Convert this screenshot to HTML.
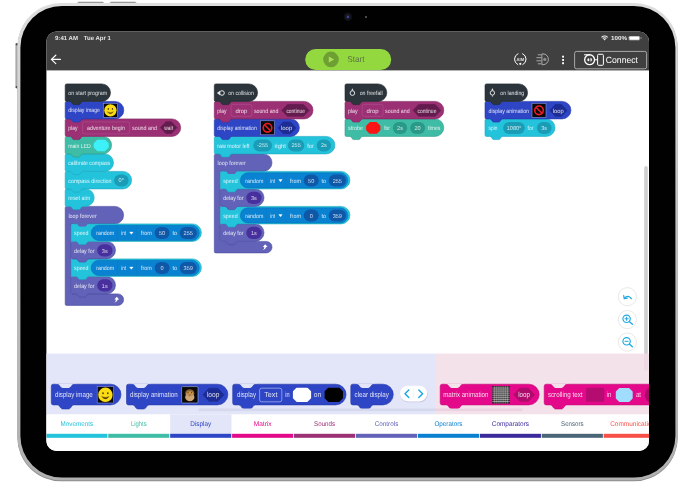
<!DOCTYPE html>
<html><head><meta charset="utf-8"><title>Block editor</title>
<style>html,body{margin:0;padding:0;background:#fff;}body{width:694px;height:482px;overflow:hidden;font-family:"Liberation Sans",sans-serif;}svg{display:block;will-change:transform;opacity:0.999;}text{font-family:"Liberation Sans",sans-serif;text-rendering:geometricPrecision;}</style>
</head><body>
<svg width="694" height="482" viewBox="0 0 694 482">
<defs>
<linearGradient id="rim" x1="0" y1="0" x2="0" y2="1"><stop offset="0" stop-color="#dedede"/><stop offset="0.5" stop-color="#c0c0c0"/><stop offset="1" stop-color="#b0b0b0"/></linearGradient>
<clipPath id="scr"><rect x="46.4" y="31.6" width="602.6" height="419.4" rx="10"/></clipPath>
<filter id="soft" x="-2%" y="-2%" width="104%" height="104%"><feGaussianBlur stdDeviation="0.7"/></filter>
</defs>
<rect x="15.6" y="43.2" width="3" height="45" rx="0.9" fill="#cdcdcd"/>
<rect x="15.6" y="43.2" width="1.1" height="45" rx="0.5" fill="#9a9a9a"/>
<rect x="15.7" y="43.2" width="2.4" height="2.2" rx="0.8" fill="#4a4a4a"/>
<rect x="15.7" y="86.0" width="2.4" height="2.2" rx="0.8" fill="#4a4a4a"/>
<rect x="77.3" y="1.7" width="26.7" height="3" rx="0.8" fill="#c4c4c4"/><rect x="78.3" y="1.9" width="24.7" height="0.7" fill="#7a7a7a"/>
<rect x="109.7" y="1.7" width="26.7" height="3" rx="0.8" fill="#c4c4c4"/><rect x="110.7" y="1.9" width="24.7" height="0.7" fill="#7a7a7a"/>
<rect x="17.3" y="3.9" width="660.5" height="477.4" rx="44" fill="#8c8c8c"/>
<rect x="17.3" y="2.9" width="660.5" height="477.4" rx="44" fill="url(#rim)"/>
<rect x="20.4" y="5.9" width="655.0" height="471.7" rx="41.6" fill="#000" filter="url(#soft)"/>
<rect x="21.8" y="7.2" width="652.2" height="469.0" rx="40.2" fill="#000"/>
<circle cx="347.9" cy="16.7" r="4.4" fill="#0d0d12"/><circle cx="347.9" cy="16.7" r="3.2" fill="#15151d"/><circle cx="347.9" cy="16.9" r="1.3" fill="#3a448c"/>
<circle cx="366" cy="17" r="0.9" fill="#6e6e6e"/>
<g clip-path="url(#scr)">
<rect x="46" y="30" width="604" height="422" fill="#fff"/>
<rect x="46" y="30" width="604" height="40.4" fill="#404040"/>
<text x="55.00" y="40.20" textLength="23.00" lengthAdjust="spacingAndGlyphs" font-size="6" fill="#e4e4e4" font-weight="bold">9:41 AM</text>
<text x="83.80" y="40.20" textLength="27.10" lengthAdjust="spacingAndGlyphs" font-size="6" fill="#e4e4e4" font-weight="bold">Tue Apr 1</text>
<text x="611.00" y="40.20" textLength="16.00" lengthAdjust="spacingAndGlyphs" font-size="5.8" fill="#f0f0f0" font-weight="bold">100%</text>
<path d="M601.50,37.32 A4.3,4.3 0 0 1 607.70,37.32 M602.80,38.56 A2.5,2.5 0 0 1 606.40,38.56" fill="none" stroke="#f0f0f0" stroke-width="1.05"/>
<path d="M603.50,39.30 Q604.60,38.40 605.70,39.30 L604.60,40.60 Z" fill="#f0f0f0"/>
<rect x="628.4" y="35.9" width="11.8" height="4.5" rx="1.3" fill="#8a8a8a"/><rect x="629.4" y="36.5" width="9.8" height="3.3" rx="0.7" fill="#fff"/><rect x="640.7" y="37.3" width="0.8" height="1.7" rx="0.4" fill="#b0b0b0"/>
<path d="M60.4,59.4 H51.6 M55.8,55.2 L51.4,59.4 L55.8,63.6" fill="none" stroke="#fff" stroke-width="1.2" stroke-linecap="round" stroke-linejoin="round"/>
<rect x="305.2" y="49" width="86" height="21" rx="10.5" fill="#94d840"/>
<circle cx="331" cy="59.4" r="7.8" fill="#6e9f32"/>
<path d="M328.8,56.4 L334.2,59.4 L328.8,62.4 Z" fill="#a6e052"/>
<text x="347.20" y="62.30" textLength="17.30" lengthAdjust="spacingAndGlyphs" font-size="8.5" fill="#5a7640" font-weight="normal">Start</text>
<path d="M518.0,53.7 A6.1,6.1 0 0 0 517.8,64.6 M522.6,53.7 A6.1,6.1 0 0 1 522.8,64.6" fill="none" stroke="#fff" stroke-width="1.0" stroke-linecap="round"/>
<circle cx="520.3" cy="63.8" r="1.1" fill="#fff"/>
<text x="516.50" y="60.80" textLength="7.60" lengthAdjust="spacingAndGlyphs" font-size="4.4" fill="#fff" font-weight="bold" fill-opacity="0.84">AIM</text>
<path d="M541.9,53.9 H543 A5.4,5.4 0 0 1 543,64.7 H541.9 Z" fill="none" stroke="#b4b4b4" stroke-width="0.9"/>
<circle cx="544.8" cy="59.4" r="1.6" fill="#8c8c8c"/>
<path d="M537.8,54.8 H541.4 M536.4,57.7 H541.4 M536.4,60.8 H541.4 M537.8,63.8 H541.4" stroke="#b4b4b4" stroke-width="0.9"/>
<rect x="562.1" y="55.7" width="1.9" height="1.9" fill="#fff"/>
<rect x="562.1" y="59.0" width="1.9" height="1.9" fill="#fff"/>
<rect x="562.1" y="62.3" width="1.9" height="1.9" fill="#fff"/>
<rect x="574.6" y="51.4" width="72" height="17.4" rx="2" fill="none" stroke="#b4b4b4" stroke-width="0.9"/>
<circle cx="589.6" cy="59.7" r="4.95" fill="none" stroke="#fff" stroke-width="1.3"/>
<path d="M584.5,54.75 H589.6" fill="none" stroke="#fff" stroke-width="1.1" stroke-linecap="round"/>
<ellipse cx="588.4" cy="59.7" rx="1.0" ry="1.5" fill="#fff"/><path d="M590.5,57.7 A2.1,2.1 0 0 1 590.5,61.7 Z" fill="#fff"/>
<path d="M595,59.8 H597.4" stroke="#fff" stroke-width="1"/>
<rect x="597.6" y="54.3" width="5.8" height="11" rx="1" fill="none" stroke="#fff" stroke-width="1"/>
<text x="605.80" y="62.90" textLength="32.20" lengthAdjust="spacingAndGlyphs" font-size="9" fill="#fff" font-weight="normal">Connect</text>
<path d="M66.70,206.40 H114.85 A8.75,8.75 0 0 1 114.85,223.90 H88.80 q-1.00,0 -1.60,1.00 l-0.90,1.30 q-0.60,0.90 -1.60,0.90 h-4.60 q-1.00,0 -1.60,-0.90 l-0.90,-1.30 q-0.60,-1.00 -1.60,-1.00 H72.20 q-1,0 -1,1 V292.90 q0,1 1,1 H117.85 A5.75,5.75 0 0 1 117.85,305.40 H66.70 Q65.20,305.40 65.20,303.90 V207.90 Q65.20,206.40 66.70,206.40 Z" fill="#6162b8" stroke="#4c4c9e" stroke-width="0.6"/>
<path d="M72.70,276.40 H106.75 A8.75,8.75 0 0 1 106.75,293.90 H88.80 q-1.00,0 -1.60,1.00 l-0.90,1.30 q-0.60,0.90 -1.60,0.90 h-4.60 q-1.00,0 -1.60,-0.90 l-0.90,-1.30 q-0.60,-1.00 -1.60,-1.00 H72.70 Q71.20,293.90 71.20,292.40 V277.90 Q71.20,276.40 72.70,276.40 Z" fill="#6162b8" stroke="#4c4c9e" stroke-width="0.6"/>
<text x="74.10" y="287.60" textLength="20.30" lengthAdjust="spacingAndGlyphs" font-size="6.0" fill="#fff" font-weight="normal" fill-opacity="0.84">delay for</text>
<rect x="97.20" y="279.20" width="15.30" height="12.4" rx="6.2" fill="#482f9e"/>
<text x="104.80" y="287.50"  font-size="5.6" fill="#fff" font-weight="normal" fill-opacity="0.78" text-anchor="middle">1s</text>
<path d="M72.70,258.90 H192.65 A8.75,8.75 0 0 1 192.65,276.40 H88.80 q-1.00,0 -1.60,1.00 l-0.90,1.30 q-0.60,0.90 -1.60,0.90 h-4.60 q-1.00,0 -1.60,-0.90 l-0.90,-1.30 q-0.60,-1.00 -1.60,-1.00 H72.70 Q71.20,276.40 71.20,274.90 V260.40 Q71.20,258.90 72.70,258.90 Z" fill="#24c3dc" stroke="#1aa6bd" stroke-width="0.6"/>
<text x="74.10" y="270.10" textLength="14.40" lengthAdjust="spacingAndGlyphs" font-size="6.0" fill="#fff" font-weight="normal" fill-opacity="0.84">speed</text>
<rect x="91.20" y="260.30" width="108.10" height="15.2" rx="7.6" fill="#0a82d2" stroke="#086cb2" stroke-width="0.5"/>
<text x="96.20" y="270.10" textLength="18.00" lengthAdjust="spacingAndGlyphs" font-size="6.0" fill="#fff" font-weight="normal" fill-opacity="0.84">random</text>
<path d="M117.60,260.70 V275.10" stroke="#086cb2" stroke-width="0.4" opacity="0.6"/>
<text x="121.20" y="270.10" textLength="4.80" lengthAdjust="spacingAndGlyphs" font-size="6.0" fill="#fff" font-weight="normal" fill-opacity="0.84">int</text>
<path d="M129.70,267.10 h3.4 l-1.7,2.2 z" fill="#fff" stroke="#fff" stroke-width="0.4" stroke-linejoin="round"/>
<path d="M136.80,260.70 V275.10" stroke="#086cb2" stroke-width="0.4" opacity="0.6"/>
<text x="141.00" y="270.10" textLength="10.80" lengthAdjust="spacingAndGlyphs" font-size="6.0" fill="#fff" font-weight="normal" fill-opacity="0.84">from</text>
<rect x="154.60" y="261.90" width="15.00" height="12" rx="6.0" fill="#0f58a8"/>
<text x="162.10" y="270.00"  font-size="5.6" fill="#fff" font-weight="normal" fill-opacity="0.78" text-anchor="middle">0</text>
<text x="172.40" y="270.10" textLength="4.60" lengthAdjust="spacingAndGlyphs" font-size="6.0" fill="#fff" font-weight="normal" fill-opacity="0.84">to</text>
<rect x="179.60" y="261.90" width="17.30" height="12" rx="6.0" fill="#0f58a8"/>
<text x="188.20" y="270.00"  font-size="5.6" fill="#fff" font-weight="normal" fill-opacity="0.78" text-anchor="middle">359</text>
<path d="M72.70,241.40 H106.75 A8.75,8.75 0 0 1 106.75,258.90 H88.80 q-1.00,0 -1.60,1.00 l-0.90,1.30 q-0.60,0.90 -1.60,0.90 h-4.60 q-1.00,0 -1.60,-0.90 l-0.90,-1.30 q-0.60,-1.00 -1.60,-1.00 H72.70 Q71.20,258.90 71.20,257.40 V242.90 Q71.20,241.40 72.70,241.40 Z" fill="#6162b8" stroke="#4c4c9e" stroke-width="0.6"/>
<text x="74.10" y="252.60" textLength="20.30" lengthAdjust="spacingAndGlyphs" font-size="6.0" fill="#fff" font-weight="normal" fill-opacity="0.84">delay for</text>
<rect x="97.20" y="244.20" width="15.30" height="12.4" rx="6.2" fill="#482f9e"/>
<text x="104.80" y="252.50"  font-size="5.6" fill="#fff" font-weight="normal" fill-opacity="0.78" text-anchor="middle">3s</text>
<path d="M72.70,223.90 H192.65 A8.75,8.75 0 0 1 192.65,241.40 H88.80 q-1.00,0 -1.60,1.00 l-0.90,1.30 q-0.60,0.90 -1.60,0.90 h-4.60 q-1.00,0 -1.60,-0.90 l-0.90,-1.30 q-0.60,-1.00 -1.60,-1.00 H72.70 Q71.20,241.40 71.20,239.90 V225.40 Q71.20,223.90 72.70,223.90 Z" fill="#24c3dc" stroke="#1aa6bd" stroke-width="0.6"/>
<text x="74.10" y="235.10" textLength="14.40" lengthAdjust="spacingAndGlyphs" font-size="6.0" fill="#fff" font-weight="normal" fill-opacity="0.84">speed</text>
<rect x="91.20" y="225.30" width="108.10" height="15.2" rx="7.6" fill="#0a82d2" stroke="#086cb2" stroke-width="0.5"/>
<text x="96.20" y="235.10" textLength="18.00" lengthAdjust="spacingAndGlyphs" font-size="6.0" fill="#fff" font-weight="normal" fill-opacity="0.84">random</text>
<path d="M117.60,225.70 V240.10" stroke="#086cb2" stroke-width="0.4" opacity="0.6"/>
<text x="121.20" y="235.10" textLength="4.80" lengthAdjust="spacingAndGlyphs" font-size="6.0" fill="#fff" font-weight="normal" fill-opacity="0.84">int</text>
<path d="M129.70,232.10 h3.4 l-1.7,2.2 z" fill="#fff" stroke="#fff" stroke-width="0.4" stroke-linejoin="round"/>
<path d="M136.80,225.70 V240.10" stroke="#086cb2" stroke-width="0.4" opacity="0.6"/>
<text x="141.00" y="235.10" textLength="10.80" lengthAdjust="spacingAndGlyphs" font-size="6.0" fill="#fff" font-weight="normal" fill-opacity="0.84">from</text>
<rect x="154.60" y="226.90" width="15.00" height="12" rx="6.0" fill="#0f58a8"/>
<text x="162.10" y="235.00"  font-size="5.6" fill="#fff" font-weight="normal" fill-opacity="0.78" text-anchor="middle">50</text>
<text x="172.40" y="235.10" textLength="4.60" lengthAdjust="spacingAndGlyphs" font-size="6.0" fill="#fff" font-weight="normal" fill-opacity="0.84">to</text>
<rect x="179.60" y="226.90" width="17.30" height="12" rx="6.0" fill="#0f58a8"/>
<text x="188.20" y="235.00"  font-size="5.6" fill="#fff" font-weight="normal" fill-opacity="0.78" text-anchor="middle">255</text>
<path d="M89.20,223.40 H88.80 q-1.00,0 -1.60,1.00 l-0.90,1.30 q-0.60,0.90 -1.60,0.90 h-4.60 q-1.00,0 -1.60,-0.90 l-0.90,-1.30 q-0.60,-1.00 -1.60,-1.00 H76.20 V223.40 Z" fill="#6162b8"/>
<text x="68.40" y="217.60" textLength="28.40" lengthAdjust="spacingAndGlyphs" font-size="6.0" fill="#fff" font-weight="normal" fill-opacity="0.84">loop forever</text>
<path d="M116.80,296.80 L119.20,299.50 H117.80 Q117.60,301.60 114.40,302.70 Q116.00,301.20 115.90,299.50 H114.40 Z" fill="#fff"/>
<path d="M66.70,188.90 H85.45 A8.75,8.75 0 0 1 85.45,206.40 H82.80 q-1.00,0 -1.60,1.00 l-0.90,1.30 q-0.60,0.90 -1.60,0.90 h-4.60 q-1.00,0 -1.60,-0.90 l-0.90,-1.30 q-0.60,-1.00 -1.60,-1.00 H66.70 Q65.20,206.40 65.20,204.90 V190.40 Q65.20,188.90 66.70,188.90 Z" fill="#24c3dc" stroke="#1aa6bd" stroke-width="0.6"/>
<text x="68.20" y="200.10" textLength="22.00" lengthAdjust="spacingAndGlyphs" font-size="6.0" fill="#fff" font-weight="normal" fill-opacity="0.84">reset aim</text>
<path d="M66.70,171.40 H122.85 A8.75,8.75 0 0 1 122.85,188.90 H82.80 q-1.00,0 -1.60,1.00 l-0.90,1.30 q-0.60,0.90 -1.60,0.90 h-4.60 q-1.00,0 -1.60,-0.90 l-0.90,-1.30 q-0.60,-1.00 -1.60,-1.00 H66.70 Q65.20,188.90 65.20,187.40 V172.90 Q65.20,171.40 66.70,171.40 Z" fill="#24c3dc" stroke="#1aa6bd" stroke-width="0.6"/>
<text x="68.20" y="182.60" textLength="43.40" lengthAdjust="spacingAndGlyphs" font-size="6.0" fill="#fff" font-weight="normal" fill-opacity="0.84">compass direction</text>
<rect x="114.10" y="174.40" width="14.50" height="12" rx="6.0" fill="#1a9cb6"/>
<text x="121.30" y="182.40"  font-size="5.6" fill="#fff" font-weight="normal" fill-opacity="0.78" text-anchor="middle">0°</text>
<path d="M66.70,153.90 H104.75 A8.75,8.75 0 0 1 104.75,171.40 H82.80 q-1.00,0 -1.60,1.00 l-0.90,1.30 q-0.60,0.90 -1.60,0.90 h-4.60 q-1.00,0 -1.60,-0.90 l-0.90,-1.30 q-0.60,-1.00 -1.60,-1.00 H66.70 Q65.20,171.40 65.20,169.90 V155.40 Q65.20,153.90 66.70,153.90 Z" fill="#24c3dc" stroke="#1aa6bd" stroke-width="0.6"/>
<text x="68.20" y="165.10" textLength="42.00" lengthAdjust="spacingAndGlyphs" font-size="6.0" fill="#fff" font-weight="normal" fill-opacity="0.84">calibrate compass</text>
<path d="M66.70,136.40 H102.85 A8.75,8.75 0 0 1 102.85,153.90 H82.80 q-1.00,0 -1.60,1.00 l-0.90,1.30 q-0.60,0.90 -1.60,0.90 h-4.60 q-1.00,0 -1.60,-0.90 l-0.90,-1.30 q-0.60,-1.00 -1.60,-1.00 H66.70 Q65.20,153.90 65.20,152.40 V137.90 Q65.20,136.40 66.70,136.40 Z" fill="#3ebca5" stroke="#2f9c8a" stroke-width="0.6"/>
<text x="68.20" y="147.60" textLength="22.60" lengthAdjust="spacingAndGlyphs" font-size="6.0" fill="#fff" font-weight="normal" fill-opacity="0.84">main LED</text>
<path d="M94.70,143.65 L97.70,140.65 H104.70 L107.70,143.65 V147.15 L104.70,150.15 H97.70 L94.70,147.15 Z" fill="#3ef0f8" stroke="#3ef0f8" stroke-width="2" stroke-linejoin="round"/>
<path d="M66.70,118.90 H171.95 A8.75,8.75 0 0 1 171.95,136.40 H82.80 q-1.00,0 -1.60,1.00 l-0.90,1.30 q-0.60,0.90 -1.60,0.90 h-4.60 q-1.00,0 -1.60,-0.90 l-0.90,-1.30 q-0.60,-1.00 -1.60,-1.00 H66.70 Q65.20,136.40 65.20,134.90 V120.40 Q65.20,118.90 66.70,118.90 Z" fill="#9c3075" stroke="#822661" stroke-width="0.6"/>
<text x="68.20" y="130.10" textLength="9.30" lengthAdjust="spacingAndGlyphs" font-size="6.0" fill="#fff" font-weight="normal" fill-opacity="0.84">play</text>
<rect x="82.50" y="121.90" width="47.20" height="12" rx="2" fill="#9c3075" stroke="#b0508f" stroke-width="0.6"/>
<text x="87.00" y="130.10" textLength="37.90" lengthAdjust="spacingAndGlyphs" font-size="6.0" fill="#fff" font-weight="normal" fill-opacity="0.84">adventure begin</text>
<text x="132.00" y="130.10" textLength="24.90" lengthAdjust="spacingAndGlyphs" font-size="6.0" fill="#fff" font-weight="normal" fill-opacity="0.84">sound and</text>
<path d="M160.40,127.60 L165.91,121.80 H171.39 L176.90,127.60 L171.39,133.40 H165.91 Z" fill="#641c4e" stroke="#641c4e" stroke-width="0.8" stroke-linejoin="round"/>
<text x="164.30" y="130.10" textLength="8.70" lengthAdjust="spacingAndGlyphs" font-size="6.0" fill="#fff" font-weight="normal" fill-opacity="0.84">wait</text>
<path d="M66.70,101.40 H115.05 A8.75,8.75 0 0 1 115.05,118.90 H82.80 q-1.00,0 -1.60,1.00 l-0.90,1.30 q-0.60,0.90 -1.60,0.90 h-4.60 q-1.00,0 -1.60,-0.90 l-0.90,-1.30 q-0.60,-1.00 -1.60,-1.00 H66.70 Q65.20,118.90 65.20,117.40 V102.90 Q65.20,101.40 66.70,101.40 Z" fill="#2e46c6" stroke="#2438a8" stroke-width="0.6"/>
<text x="68.20" y="112.30" textLength="31.80" lengthAdjust="spacingAndGlyphs" font-size="6.0" fill="#fff" font-weight="normal" fill-opacity="0.84">display image</text>
<rect x="103.40" y="103.30" width="14" height="14" fill="#0a0a0a" stroke="#8c94d8" stroke-width="0.6"/>
<circle cx="110.40" cy="110.30" r="6.15" fill="#fadb14"/>
<ellipse cx="108.35" cy="108.93" rx="0.68" ry="0.90" fill="#4a3200"/><ellipse cx="112.45" cy="108.93" rx="0.68" ry="0.90" fill="#4a3200"/>
<path d="M107.24,111.67 Q110.40,115.93 113.56,111.67 Q110.40,113.63 107.24,111.67 Z" fill="#4a3200" stroke="#4a3200" stroke-width="0.26" stroke-linejoin="round"/>
<path d="M66.70,83.90 H101.75 A8.75,8.75 0 0 1 101.75,101.40 H82.80 q-1.00,0 -1.60,1.00 l-0.90,1.30 q-0.60,0.90 -1.60,0.90 h-4.60 q-1.00,0 -1.60,-0.90 l-0.90,-1.30 q-0.60,-1.00 -1.60,-1.00 H66.70 Q65.20,101.40 65.20,99.90 V85.40 Q65.20,83.90 66.70,83.90 Z" fill="#2c353c" stroke="#1e252a" stroke-width="0.6"/>
<text x="68.20" y="95.10" textLength="39.00" lengthAdjust="spacingAndGlyphs" font-size="6.0" fill="#fff" font-weight="normal" fill-opacity="0.84">on start program</text>
<path d="M215.80,153.90 H263.25 A8.75,8.75 0 0 1 263.25,171.40 H237.90 q-1.00,0 -1.60,1.00 l-0.90,1.30 q-0.60,0.90 -1.60,0.90 h-4.60 q-1.00,0 -1.60,-0.90 l-0.90,-1.30 q-0.60,-1.00 -1.60,-1.00 H221.30 q-1,0 -1,1 V240.40 q0,1 1,1 H266.25 A5.75,5.75 0 0 1 266.25,252.90 H215.80 Q214.30,252.90 214.30,251.40 V155.40 Q214.30,153.90 215.80,153.90 Z" fill="#6162b8" stroke="#4c4c9e" stroke-width="0.6"/>
<path d="M221.80,223.90 H255.25 A8.75,8.75 0 0 1 255.25,241.40 H237.90 q-1.00,0 -1.60,1.00 l-0.90,1.30 q-0.60,0.90 -1.60,0.90 h-4.60 q-1.00,0 -1.60,-0.90 l-0.90,-1.30 q-0.60,-1.00 -1.60,-1.00 H221.80 Q220.30,241.40 220.30,239.90 V225.40 Q220.30,223.90 221.80,223.90 Z" fill="#6162b8" stroke="#4c4c9e" stroke-width="0.6"/>
<text x="223.20" y="235.10" textLength="20.30" lengthAdjust="spacingAndGlyphs" font-size="6.0" fill="#fff" font-weight="normal" fill-opacity="0.84">delay for</text>
<rect x="246.30" y="226.70" width="15.30" height="12.4" rx="6.2" fill="#482f9e"/>
<text x="253.90" y="235.00"  font-size="5.6" fill="#fff" font-weight="normal" fill-opacity="0.78" text-anchor="middle">1s</text>
<path d="M221.80,206.40 H341.15 A8.75,8.75 0 0 1 341.15,223.90 H237.90 q-1.00,0 -1.60,1.00 l-0.90,1.30 q-0.60,0.90 -1.60,0.90 h-4.60 q-1.00,0 -1.60,-0.90 l-0.90,-1.30 q-0.60,-1.00 -1.60,-1.00 H221.80 Q220.30,223.90 220.30,222.40 V207.90 Q220.30,206.40 221.80,206.40 Z" fill="#24c3dc" stroke="#1aa6bd" stroke-width="0.6"/>
<text x="223.20" y="217.60" textLength="14.40" lengthAdjust="spacingAndGlyphs" font-size="6.0" fill="#fff" font-weight="normal" fill-opacity="0.84">speed</text>
<rect x="240.30" y="207.80" width="107.50" height="15.2" rx="7.6" fill="#0a82d2" stroke="#086cb2" stroke-width="0.5"/>
<text x="245.30" y="217.60" textLength="18.00" lengthAdjust="spacingAndGlyphs" font-size="6.0" fill="#fff" font-weight="normal" fill-opacity="0.84">random</text>
<path d="M266.70,208.20 V222.60" stroke="#086cb2" stroke-width="0.4" opacity="0.6"/>
<text x="270.30" y="217.60" textLength="4.80" lengthAdjust="spacingAndGlyphs" font-size="6.0" fill="#fff" font-weight="normal" fill-opacity="0.84">int</text>
<path d="M278.80,214.60 h3.4 l-1.7,2.2 z" fill="#fff" stroke="#fff" stroke-width="0.4" stroke-linejoin="round"/>
<path d="M285.90,208.20 V222.60" stroke="#086cb2" stroke-width="0.4" opacity="0.6"/>
<text x="290.10" y="217.60" textLength="10.80" lengthAdjust="spacingAndGlyphs" font-size="6.0" fill="#fff" font-weight="normal" fill-opacity="0.84">from</text>
<rect x="303.70" y="209.40" width="15.00" height="12" rx="6.0" fill="#0f58a8"/>
<text x="311.20" y="217.50"  font-size="5.6" fill="#fff" font-weight="normal" fill-opacity="0.78" text-anchor="middle">0</text>
<text x="321.50" y="217.60" textLength="4.60" lengthAdjust="spacingAndGlyphs" font-size="6.0" fill="#fff" font-weight="normal" fill-opacity="0.84">to</text>
<rect x="328.70" y="209.40" width="17.30" height="12" rx="6.0" fill="#0f58a8"/>
<text x="337.30" y="217.50"  font-size="5.6" fill="#fff" font-weight="normal" fill-opacity="0.78" text-anchor="middle">359</text>
<path d="M221.80,188.90 H255.25 A8.75,8.75 0 0 1 255.25,206.40 H237.90 q-1.00,0 -1.60,1.00 l-0.90,1.30 q-0.60,0.90 -1.60,0.90 h-4.60 q-1.00,0 -1.60,-0.90 l-0.90,-1.30 q-0.60,-1.00 -1.60,-1.00 H221.80 Q220.30,206.40 220.30,204.90 V190.40 Q220.30,188.90 221.80,188.90 Z" fill="#6162b8" stroke="#4c4c9e" stroke-width="0.6"/>
<text x="223.20" y="200.10" textLength="20.30" lengthAdjust="spacingAndGlyphs" font-size="6.0" fill="#fff" font-weight="normal" fill-opacity="0.84">delay for</text>
<rect x="246.30" y="191.70" width="15.30" height="12.4" rx="6.2" fill="#482f9e"/>
<text x="253.90" y="200.00"  font-size="5.6" fill="#fff" font-weight="normal" fill-opacity="0.78" text-anchor="middle">3s</text>
<path d="M221.80,171.40 H341.15 A8.75,8.75 0 0 1 341.15,188.90 H237.90 q-1.00,0 -1.60,1.00 l-0.90,1.30 q-0.60,0.90 -1.60,0.90 h-4.60 q-1.00,0 -1.60,-0.90 l-0.90,-1.30 q-0.60,-1.00 -1.60,-1.00 H221.80 Q220.30,188.90 220.30,187.40 V172.90 Q220.30,171.40 221.80,171.40 Z" fill="#24c3dc" stroke="#1aa6bd" stroke-width="0.6"/>
<text x="223.20" y="182.60" textLength="14.40" lengthAdjust="spacingAndGlyphs" font-size="6.0" fill="#fff" font-weight="normal" fill-opacity="0.84">speed</text>
<rect x="240.30" y="172.80" width="107.50" height="15.2" rx="7.6" fill="#0a82d2" stroke="#086cb2" stroke-width="0.5"/>
<text x="245.30" y="182.60" textLength="18.00" lengthAdjust="spacingAndGlyphs" font-size="6.0" fill="#fff" font-weight="normal" fill-opacity="0.84">random</text>
<path d="M266.70,173.20 V187.60" stroke="#086cb2" stroke-width="0.4" opacity="0.6"/>
<text x="270.30" y="182.60" textLength="4.80" lengthAdjust="spacingAndGlyphs" font-size="6.0" fill="#fff" font-weight="normal" fill-opacity="0.84">int</text>
<path d="M278.80,179.60 h3.4 l-1.7,2.2 z" fill="#fff" stroke="#fff" stroke-width="0.4" stroke-linejoin="round"/>
<path d="M285.90,173.20 V187.60" stroke="#086cb2" stroke-width="0.4" opacity="0.6"/>
<text x="290.10" y="182.60" textLength="10.80" lengthAdjust="spacingAndGlyphs" font-size="6.0" fill="#fff" font-weight="normal" fill-opacity="0.84">from</text>
<rect x="303.70" y="174.40" width="15.00" height="12" rx="6.0" fill="#0f58a8"/>
<text x="311.20" y="182.50"  font-size="5.6" fill="#fff" font-weight="normal" fill-opacity="0.78" text-anchor="middle">50</text>
<text x="321.50" y="182.60" textLength="4.60" lengthAdjust="spacingAndGlyphs" font-size="6.0" fill="#fff" font-weight="normal" fill-opacity="0.84">to</text>
<rect x="328.70" y="174.40" width="17.30" height="12" rx="6.0" fill="#0f58a8"/>
<text x="337.30" y="182.50"  font-size="5.6" fill="#fff" font-weight="normal" fill-opacity="0.78" text-anchor="middle">255</text>
<path d="M238.30,170.90 H237.90 q-1.00,0 -1.60,1.00 l-0.90,1.30 q-0.60,0.90 -1.60,0.90 h-4.60 q-1.00,0 -1.60,-0.90 l-0.90,-1.30 q-0.60,-1.00 -1.60,-1.00 H225.30 V170.90 Z" fill="#6162b8"/>
<text x="217.50" y="165.10" textLength="28.40" lengthAdjust="spacingAndGlyphs" font-size="6.0" fill="#fff" font-weight="normal" fill-opacity="0.84">loop forever</text>
<path d="M265.20,244.30 L267.60,247.00 H266.20 Q266.00,249.10 262.80,250.20 Q264.40,248.70 264.30,247.00 H262.80 Z" fill="#fff"/>
<path d="M215.80,136.40 H326.15 A8.75,8.75 0 0 1 326.15,153.90 H231.90 q-1.00,0 -1.60,1.00 l-0.90,1.30 q-0.60,0.90 -1.60,0.90 h-4.60 q-1.00,0 -1.60,-0.90 l-0.90,-1.30 q-0.60,-1.00 -1.60,-1.00 H215.80 Q214.30,153.90 214.30,152.40 V137.90 Q214.30,136.40 215.80,136.40 Z" fill="#24c3dc" stroke="#1aa6bd" stroke-width="0.6"/>
<text x="217.30" y="147.60" textLength="32.30" lengthAdjust="spacingAndGlyphs" font-size="6.0" fill="#fff" font-weight="normal" fill-opacity="0.84">raw motor left</text>
<rect x="253.30" y="139.40" width="18.70" height="12" rx="6.0" fill="#1a9cb6"/>
<text x="262.60" y="147.40"  font-size="5.6" fill="#fff" font-weight="normal" fill-opacity="0.78" text-anchor="middle">-255</text>
<text x="274.40" y="147.60" textLength="11.50" lengthAdjust="spacingAndGlyphs" font-size="6.0" fill="#fff" font-weight="normal" fill-opacity="0.84">right</text>
<rect x="287.90" y="139.40" width="16.40" height="12" rx="6.0" fill="#1a9cb6"/>
<text x="296.10" y="147.40"  font-size="5.6" fill="#fff" font-weight="normal" fill-opacity="0.78" text-anchor="middle">255</text>
<text x="307.20" y="147.60" textLength="6.60" lengthAdjust="spacingAndGlyphs" font-size="6.0" fill="#fff" font-weight="normal" fill-opacity="0.84">for</text>
<rect x="316.70" y="139.40" width="14.40" height="12" rx="6.0" fill="#1a9cb6"/>
<text x="323.90" y="147.40"  font-size="5.6" fill="#fff" font-weight="normal" fill-opacity="0.78" text-anchor="middle">2s</text>
<path d="M215.80,118.90 H290.65 A8.75,8.75 0 0 1 290.65,136.40 H231.90 q-1.00,0 -1.60,1.00 l-0.90,1.30 q-0.60,0.90 -1.60,0.90 h-4.60 q-1.00,0 -1.60,-0.90 l-0.90,-1.30 q-0.60,-1.00 -1.60,-1.00 H215.80 Q214.30,136.40 214.30,134.90 V120.40 Q214.30,118.90 215.80,118.90 Z" fill="#2e46c6" stroke="#2438a8" stroke-width="0.6"/>
<text x="217.30" y="130.10" textLength="39.50" lengthAdjust="spacingAndGlyphs" font-size="6.0" fill="#fff" font-weight="normal" fill-opacity="0.84">display animation</text>
<rect x="260.50" y="120.80" width="14" height="14" fill="#0a0a0a" stroke="#8c94d8" stroke-width="0.6"/>
<circle cx="267.50" cy="127.80" r="4.3" fill="none" stroke="#ee1c24" stroke-width="1.6"/>
<path d="M264.50,124.80 L270.50,130.80" stroke="#ee1c24" stroke-width="1.6"/>
<path d="M277.80,127.90 L283.31,122.10 H290.49 L296.00,127.90 L290.49,133.70 H283.31 Z" fill="#1c2c94" stroke="#1c2c94" stroke-width="0.8" stroke-linejoin="round"/>
<text x="281.00" y="130.10" textLength="11.20" lengthAdjust="spacingAndGlyphs" font-size="6.0" fill="#fff" font-weight="normal" fill-opacity="0.84">loop</text>
<path d="M215.80,101.40 H304.25 A8.75,8.75 0 0 1 304.25,118.90 H231.90 q-1.00,0 -1.60,1.00 l-0.90,1.30 q-0.60,0.90 -1.60,0.90 h-4.60 q-1.00,0 -1.60,-0.90 l-0.90,-1.30 q-0.60,-1.00 -1.60,-1.00 H215.80 Q214.30,118.90 214.30,117.40 V102.90 Q214.30,101.40 215.80,101.40 Z" fill="#9c3075" stroke="#822661" stroke-width="0.6"/>
<text x="217.30" y="112.60" textLength="9.20" lengthAdjust="spacingAndGlyphs" font-size="6.0" fill="#fff" font-weight="normal" fill-opacity="0.84">play</text>
<rect x="231.10" y="104.40" width="20.80" height="12" rx="2" fill="#9c3075" stroke="#b0508f" stroke-width="0.6"/>
<text x="235.40" y="112.60" textLength="12.00" lengthAdjust="spacingAndGlyphs" font-size="6.0" fill="#fff" font-weight="normal" fill-opacity="0.84">drop</text>
<text x="253.90" y="112.60" textLength="24.50" lengthAdjust="spacingAndGlyphs" font-size="6.0" fill="#fff" font-weight="normal" fill-opacity="0.84">sound and</text>
<path d="M281.90,110.40 L287.41,104.60 H303.59 L309.10,110.40 L303.59,116.20 H287.41 Z" fill="#641c4e" stroke="#641c4e" stroke-width="0.8" stroke-linejoin="round"/>
<text x="286.40" y="112.60" textLength="18.60" lengthAdjust="spacingAndGlyphs" font-size="6.0" fill="#fff" font-weight="normal" fill-opacity="0.84">continue</text>
<path d="M215.80,83.90 H248.85 A8.75,8.75 0 0 1 248.85,101.40 H231.90 q-1.00,0 -1.60,1.00 l-0.90,1.30 q-0.60,0.90 -1.60,0.90 h-4.60 q-1.00,0 -1.60,-0.90 l-0.90,-1.30 q-0.60,-1.00 -1.60,-1.00 H215.80 Q214.30,101.40 214.30,99.90 V85.40 Q214.30,83.90 215.80,83.90 Z" fill="#2c353c" stroke="#1e252a" stroke-width="0.6"/>
<text x="228.20" y="95.10" textLength="25.70" lengthAdjust="spacingAndGlyphs" font-size="6.0" fill="#fff" font-weight="normal" fill-opacity="0.84">on collision</text>
<circle cx="222.0" cy="93.00" r="2.3" fill="none" stroke="#e6e6e6" stroke-width="1.0"/>
<path d="M220.0,90.70 L216.9,93.00 L220.0,95.30 Z" fill="#e6e6e6"/>
<path d="M346.50,118.90 H435.05 A8.75,8.75 0 0 1 435.05,136.40 H362.60 q-1.00,0 -1.60,1.00 l-0.90,1.30 q-0.60,0.90 -1.60,0.90 h-4.60 q-1.00,0 -1.60,-0.90 l-0.90,-1.30 q-0.60,-1.00 -1.60,-1.00 H346.50 Q345.00,136.40 345.00,134.90 V120.40 Q345.00,118.90 346.50,118.90 Z" fill="#3ebca5" stroke="#2f9c8a" stroke-width="0.6"/>
<text x="348.00" y="130.10" textLength="15.10" lengthAdjust="spacingAndGlyphs" font-size="6.0" fill="#fff" font-weight="normal" fill-opacity="0.84">strobe</text>
<path d="M367.10,126.10 L370.10,123.10 H376.40 L379.40,126.10 V129.70 L376.40,132.70 H370.10 L367.10,129.70 Z" fill="#fa1414" stroke="#fa1414" stroke-width="2" stroke-linejoin="round"/>
<text x="384.20" y="130.10" textLength="5.80" lengthAdjust="spacingAndGlyphs" font-size="6.0" fill="#fff" font-weight="normal" fill-opacity="0.84">for</text>
<rect x="392.80" y="121.90" width="14.40" height="12" rx="6.0" fill="#2a9a88"/>
<text x="400.00" y="129.90"  font-size="5.6" fill="#fff" font-weight="normal" fill-opacity="0.78" text-anchor="middle">2s</text>
<rect x="410.10" y="121.90" width="15.00" height="12" rx="6.0" fill="#2a9a88"/>
<text x="417.60" y="129.90"  font-size="5.6" fill="#fff" font-weight="normal" fill-opacity="0.78" text-anchor="middle">20</text>
<text x="428.00" y="130.10" textLength="12.40" lengthAdjust="spacingAndGlyphs" font-size="6.0" fill="#fff" font-weight="normal" fill-opacity="0.84">times</text>
<path d="M346.50,101.40 H435.05 A8.75,8.75 0 0 1 435.05,118.90 H362.60 q-1.00,0 -1.60,1.00 l-0.90,1.30 q-0.60,0.90 -1.60,0.90 h-4.60 q-1.00,0 -1.60,-0.90 l-0.90,-1.30 q-0.60,-1.00 -1.60,-1.00 H346.50 Q345.00,118.90 345.00,117.40 V102.90 Q345.00,101.40 346.50,101.40 Z" fill="#9c3075" stroke="#822661" stroke-width="0.6"/>
<text x="348.00" y="112.60" textLength="9.70" lengthAdjust="spacingAndGlyphs" font-size="6.0" fill="#fff" font-weight="normal" fill-opacity="0.84">play</text>
<rect x="362.30" y="104.40" width="20.80" height="12" rx="2" fill="#9c3075" stroke="#b0508f" stroke-width="0.6"/>
<text x="366.60" y="112.60" textLength="12.00" lengthAdjust="spacingAndGlyphs" font-size="6.0" fill="#fff" font-weight="normal" fill-opacity="0.84">drop</text>
<text x="385.10" y="112.60" textLength="24.50" lengthAdjust="spacingAndGlyphs" font-size="6.0" fill="#fff" font-weight="normal" fill-opacity="0.84">sound and</text>
<path d="M413.10,110.40 L418.61,104.60 H435.19 L440.70,110.40 L435.19,116.20 H418.61 Z" fill="#641c4e" stroke="#641c4e" stroke-width="0.8" stroke-linejoin="round"/>
<text x="417.60" y="112.60" textLength="18.80" lengthAdjust="spacingAndGlyphs" font-size="6.0" fill="#fff" font-weight="normal" fill-opacity="0.84">continue</text>
<path d="M346.50,83.90 H378.05 A8.75,8.75 0 0 1 378.05,101.40 H362.60 q-1.00,0 -1.60,1.00 l-0.90,1.30 q-0.60,0.90 -1.60,0.90 h-4.60 q-1.00,0 -1.60,-0.90 l-0.90,-1.30 q-0.60,-1.00 -1.60,-1.00 H346.50 Q345.00,101.40 345.00,99.90 V85.40 Q345.00,83.90 346.50,83.90 Z" fill="#2c353c" stroke="#1e252a" stroke-width="0.6"/>
<text x="359.70" y="95.10" textLength="23.00" lengthAdjust="spacingAndGlyphs" font-size="6.0" fill="#fff" font-weight="normal" fill-opacity="0.84">on freefall</text>
<circle cx="352.4" cy="93.10" r="2.3" fill="none" stroke="#e6e6e6" stroke-width="0.95"/>
<path d="M352.4,88.20 L353.5,90.50 H351.3 Z" fill="#e6e6e6"/>
<path d="M486.50,118.90 H546.25 A8.75,8.75 0 0 1 546.25,136.40 H502.60 q-1.00,0 -1.60,1.00 l-0.90,1.30 q-0.60,0.90 -1.60,0.90 h-4.60 q-1.00,0 -1.60,-0.90 l-0.90,-1.30 q-0.60,-1.00 -1.60,-1.00 H486.50 Q485.00,136.40 485.00,134.90 V120.40 Q485.00,118.90 486.50,118.90 Z" fill="#24c3dc" stroke="#1aa6bd" stroke-width="0.6"/>
<text x="488.60" y="130.10" textLength="8.80" lengthAdjust="spacingAndGlyphs" font-size="6.0" fill="#fff" font-weight="normal" fill-opacity="0.84">spin</text>
<rect x="503.10" y="121.90" width="21.70" height="12" rx="6.0" fill="#1a9cb6"/>
<text x="514.00" y="129.90"  font-size="5.6" fill="#fff" font-weight="normal" fill-opacity="0.78" text-anchor="middle">1080°</text>
<text x="527.60" y="130.10" textLength="5.80" lengthAdjust="spacingAndGlyphs" font-size="6.0" fill="#fff" font-weight="normal" fill-opacity="0.84">for</text>
<rect x="536.90" y="121.90" width="14.70" height="12" rx="6.0" fill="#1a9cb6"/>
<text x="544.20" y="129.90"  font-size="5.6" fill="#fff" font-weight="normal" fill-opacity="0.78" text-anchor="middle">3s</text>
<path d="M486.50,101.40 H562.15 A8.75,8.75 0 0 1 562.15,118.90 H502.60 q-1.00,0 -1.60,1.00 l-0.90,1.30 q-0.60,0.90 -1.60,0.90 h-4.60 q-1.00,0 -1.60,-0.90 l-0.90,-1.30 q-0.60,-1.00 -1.60,-1.00 H486.50 Q485.00,118.90 485.00,117.40 V102.90 Q485.00,101.40 486.50,101.40 Z" fill="#2e46c6" stroke="#2438a8" stroke-width="0.6"/>
<text x="488.60" y="112.60" textLength="40.40" lengthAdjust="spacingAndGlyphs" font-size="6.0" fill="#fff" font-weight="normal" fill-opacity="0.84">display animation</text>
<rect x="532.00" y="103.30" width="14" height="14" fill="#0a0a0a" stroke="#8c94d8" stroke-width="0.6"/>
<circle cx="539.00" cy="110.30" r="4.3" fill="none" stroke="#ee1c24" stroke-width="1.6"/>
<path d="M536.00,107.30 L542.00,113.30" stroke="#ee1c24" stroke-width="1.6"/>
<path d="M549.80,110.40 L555.31,104.60 H561.49 L567.00,110.40 L561.49,116.20 H555.31 Z" fill="#1c2c94" stroke="#1c2c94" stroke-width="0.8" stroke-linejoin="round"/>
<text x="552.80" y="112.60" textLength="11.00" lengthAdjust="spacingAndGlyphs" font-size="6.0" fill="#fff" font-weight="normal" fill-opacity="0.84">loop</text>
<path d="M486.50,83.90 H518.85 A8.75,8.75 0 0 1 518.85,101.40 H502.60 q-1.00,0 -1.60,1.00 l-0.90,1.30 q-0.60,0.90 -1.60,0.90 h-4.60 q-1.00,0 -1.60,-0.90 l-0.90,-1.30 q-0.60,-1.00 -1.60,-1.00 H486.50 Q485.00,101.40 485.00,99.90 V85.40 Q485.00,83.90 486.50,83.90 Z" fill="#2c353c" stroke="#1e252a" stroke-width="0.6"/>
<text x="500.30" y="95.10" textLength="23.90" lengthAdjust="spacingAndGlyphs" font-size="6.0" fill="#fff" font-weight="normal" fill-opacity="0.84">on landing</text>
<circle cx="492.4" cy="92.90" r="2.2" fill="none" stroke="#e6e6e6" stroke-width="0.95"/>
<path d="M492.4,88.10 L493.5,90.50 H491.3 Z" fill="#e6e6e6"/>
<path d="M492.4,95.30 v1.4" stroke="#e6e6e6" stroke-width="0.8"/>
<rect x="644.2" y="165.9" width="3.6" height="195" rx="1.8" fill="#cfcfcf"/>
<circle cx="627.4" cy="296.7" r="9.1" fill="#fff" stroke="#e2e2e2" stroke-width="0.8"/>
<circle cx="627.4" cy="319.6" r="9.1" fill="#fff" stroke="#e2e2e2" stroke-width="0.8"/>
<circle cx="627.4" cy="342.1" r="9.1" fill="#fff" stroke="#e2e2e2" stroke-width="0.8"/>
<path d="M624.6,298.0 q3.4,-3.6 6.8,0.6" fill="none" stroke="#1fa8e0" stroke-width="1.3" stroke-linecap="round"/><path d="M623.7,295.5 l0.5,3.1 l3.1,-0.5" fill="none" stroke="#1fa8e0" stroke-width="1.2" stroke-linecap="round" stroke-linejoin="round"/>
<circle cx="626.6" cy="318.8" r="3.7" fill="none" stroke="#1fa8e0" stroke-width="1.15"/><path d="M629.5,321.7 L632.4,324.3" stroke="#1fa8e0" stroke-width="1.3" stroke-linecap="round"/><path d="M624.6,318.8 h4 M626.6,316.8 v4" stroke="#1fa8e0" stroke-width="1.0"/>
<circle cx="626.6" cy="341.3" r="3.7" fill="none" stroke="#1fa8e0" stroke-width="1.15"/><path d="M629.5,344.2 L632.4,346.8" stroke="#1fa8e0" stroke-width="1.3" stroke-linecap="round"/><path d="M624.6,341.3 h4" stroke="#1fa8e0" stroke-width="1.0"/>
<rect x="46" y="353.6" width="389" height="61" fill="#e3e5f8"/>
<rect x="435" y="353.6" width="215" height="61" fill="#f4e2ea"/>
<rect x="644.1" y="354" width="3.7" height="16.4" fill="#ecd9e3"/>
<path d="M53.30,384.20 H110.65 A10.35,10.35 0 0 1 110.65,404.90 H73.83 q-1.28,0 -2.05,1.28 l-1.15,1.66 q-0.77,1.15 -2.05,1.15 h-5.89 q-1.28,0 -2.05,-1.15 l-1.15,-1.66 q-0.77,-1.28 -2.05,-1.28 H53.30 Q51.30,404.90 51.30,402.90 V386.20 Q51.30,384.20 53.30,384.20 Z" fill="#2e46c6" stroke="#2438a8" stroke-width="0.6"/>
<path d="M75.62,383.60 V383.90 H73.83 q-1.28,0 -2.05,1.28 l-1.15,1.66 q-0.77,1.15 -2.05,1.15 h-5.89 q-1.28,0 -2.05,-1.15 l-1.15,-1.66 q-0.77,-1.28 -2.05,-1.28 H56.42 V383.60 Z" fill="#e3e5f8"/>
<text x="55.00" y="397.40" textLength="37.80" lengthAdjust="spacingAndGlyphs" font-size="7.4" fill="#fff" font-weight="normal" fill-opacity="0.84">display image</text>
<rect x="97.20" y="386.60" width="16.4" height="16.4" fill="#0a0a0a" stroke="#8c94d8" stroke-width="0.6"/>
<circle cx="105.40" cy="394.80" r="7.20" fill="#fadb14"/>
<ellipse cx="103.00" cy="393.20" rx="0.80" ry="1.05" fill="#4a3200"/><ellipse cx="107.80" cy="393.20" rx="0.80" ry="1.05" fill="#4a3200"/>
<path d="M101.70,396.40 Q105.40,401.40 109.10,396.40 Q105.40,398.70 101.70,396.40 Z" fill="#4a3200" stroke="#4a3200" stroke-width="0.30" stroke-linejoin="round"/>
<path d="M128.50,384.20 H217.55 A10.35,10.35 0 0 1 217.55,404.90 H149.03 q-1.28,0 -2.05,1.28 l-1.15,1.66 q-0.77,1.15 -2.05,1.15 h-5.89 q-1.28,0 -2.05,-1.15 l-1.15,-1.66 q-0.77,-1.28 -2.05,-1.28 H128.50 Q126.50,404.90 126.50,402.90 V386.20 Q126.50,384.20 128.50,384.20 Z" fill="#2e46c6" stroke="#2438a8" stroke-width="0.6"/>
<path d="M150.82,383.60 V383.90 H149.03 q-1.28,0 -2.05,1.28 l-1.15,1.66 q-0.77,1.15 -2.05,1.15 h-5.89 q-1.28,0 -2.05,-1.15 l-1.15,-1.66 q-0.77,-1.28 -2.05,-1.28 H131.62 V383.60 Z" fill="#e3e5f8"/>
<text x="130.00" y="397.40" textLength="47.60" lengthAdjust="spacingAndGlyphs" font-size="7.4" fill="#fff" font-weight="normal" fill-opacity="0.84">display animation</text>
<rect x="181.60" y="386.60" width="16.4" height="16.4" rx="1" fill="#0a0806" stroke="#aab2e8" stroke-width="0.6"/>
<ellipse cx="189.80" cy="393.20" rx="4.5" ry="4.0" fill="#8a6238"/>
<ellipse cx="189.80" cy="397.20" rx="4.6" ry="4.0" fill="#cfa470"/>
<ellipse cx="189.80" cy="393.80" rx="3.6" ry="2.6" fill="#c09060"/>
<circle cx="188.00" cy="392.80" r="1.1" fill="#e0981c"/><circle cx="191.60" cy="392.80" r="1.1" fill="#e0981c"/>
<circle cx="188.00" cy="392.80" r="0.55" fill="#1a0c00"/><circle cx="191.60" cy="392.80" r="0.55" fill="#1a0c00"/>
<ellipse cx="189.80" cy="395.00" rx="0.9" ry="0.6" fill="#7a5030"/>
<path d="M202.80,394.80 L208.88,388.40 H217.92 L224.00,394.80 L217.92,401.20 H208.88 Z" fill="#1c2c94" stroke="#1c2c94" stroke-width="0.8" stroke-linejoin="round"/>
<text x="206.90" y="397.40" textLength="12.50" lengthAdjust="spacingAndGlyphs" font-size="7.4" fill="#fff" font-weight="normal" fill-opacity="0.84">loop</text>
<path d="M234.70,384.20 H335.75 A10.35,10.35 0 0 1 335.75,404.90 H255.23 q-1.28,0 -2.05,1.28 l-1.15,1.66 q-0.77,1.15 -2.05,1.15 h-5.89 q-1.28,0 -2.05,-1.15 l-1.15,-1.66 q-0.77,-1.28 -2.05,-1.28 H234.70 Q232.70,404.90 232.70,402.90 V386.20 Q232.70,384.20 234.70,384.20 Z" fill="#2e46c6" stroke="#2438a8" stroke-width="0.6"/>
<path d="M257.02,383.60 V383.90 H255.23 q-1.28,0 -2.05,1.28 l-1.15,1.66 q-0.77,1.15 -2.05,1.15 h-5.89 q-1.28,0 -2.05,-1.15 l-1.15,-1.66 q-0.77,-1.28 -2.05,-1.28 H237.82 V383.60 Z" fill="#e3e5f8"/>
<text x="237.00" y="397.40" textLength="19.00" lengthAdjust="spacingAndGlyphs" font-size="7.4" fill="#fff" font-weight="normal" fill-opacity="0.84">display</text>
<rect x="259.60" y="388.20" width="22.20" height="13.6" rx="2" fill="#2e46c6" stroke="#c8cef4" stroke-width="0.6"/>
<text x="264.20" y="397.40" textLength="13.20" lengthAdjust="spacingAndGlyphs" font-size="7.4" fill="#fff" font-weight="normal" fill-opacity="0.84">Text</text>
<text x="285.20" y="397.40" textLength="4.40" lengthAdjust="spacingAndGlyphs" font-size="7.4" fill="#fff" font-weight="normal" fill-opacity="0.84">in</text>
<path d="M293.90,391.70 L296.90,388.70 H307.10 L310.10,391.70 V397.90 L307.10,400.90 H296.90 L293.90,397.90 Z" fill="#ffffff" stroke="#ffffff" stroke-width="2" stroke-linejoin="round"/>
<text x="313.80" y="397.40" textLength="7.40" lengthAdjust="spacingAndGlyphs" font-size="7.4" fill="#fff" font-weight="normal" fill-opacity="0.84">on</text>
<path d="M325.60,391.70 L328.60,388.70 H339.00 L342.00,391.70 V397.90 L339.00,400.90 H328.60 L325.60,397.90 Z" fill="#000000" stroke="#000000" stroke-width="2" stroke-linejoin="round"/>
<path d="M352.80,384.20 H382.95 A10.35,10.35 0 0 1 382.95,404.90 H373.33 q-1.28,0 -2.05,1.28 l-1.15,1.66 q-0.77,1.15 -2.05,1.15 h-5.89 q-1.28,0 -2.05,-1.15 l-1.15,-1.66 q-0.77,-1.28 -2.05,-1.28 H352.80 Q350.80,404.90 350.80,402.90 V386.20 Q350.80,384.20 352.80,384.20 Z" fill="#2e46c6" stroke="#2438a8" stroke-width="0.6"/>
<path d="M375.12,383.60 V383.90 H373.33 q-1.28,0 -2.05,1.28 l-1.15,1.66 q-0.77,1.15 -2.05,1.15 h-5.89 q-1.28,0 -2.05,-1.15 l-1.15,-1.66 q-0.77,-1.28 -2.05,-1.28 H355.92 V383.60 Z" fill="#e3e5f8"/>
<text x="354.60" y="397.40" textLength="34.20" lengthAdjust="spacingAndGlyphs" font-size="7.4" fill="#fff" font-weight="normal" fill-opacity="0.84">clear display</text>
<rect x="400.4" y="386.6" width="27.2" height="15.6" rx="7.8" fill="#c4c6dc"/>
<rect x="400.0" y="385.8" width="27.2" height="15.6" rx="7.8" fill="#fff"/>
<path d="M413.6,388.6 V398.6" stroke="#e8e8f0" stroke-width="0.5"/>
<path d="M408.8,390.0 L405.0,393.7 L408.8,397.4 M418.8,390.0 L422.6,393.7 L418.8,397.4" fill="none" stroke="#18a4e4" stroke-width="1.4" stroke-linecap="round" stroke-linejoin="round"/>
<path d="M442.20,384.20 H528.85 A10.35,10.35 0 0 1 528.85,404.90 H462.73 q-1.28,0 -2.05,1.28 l-1.15,1.66 q-0.77,1.15 -2.05,1.15 h-5.89 q-1.28,0 -2.05,-1.15 l-1.15,-1.66 q-0.77,-1.28 -2.05,-1.28 H442.20 Q440.20,404.90 440.20,402.90 V386.20 Q440.20,384.20 442.20,384.20 Z" fill="#e4088a" stroke="#c40676" stroke-width="0.6"/>
<path d="M464.52,383.60 V383.90 H462.73 q-1.28,0 -2.05,1.28 l-1.15,1.66 q-0.77,1.15 -2.05,1.15 h-5.89 q-1.28,0 -2.05,-1.15 l-1.15,-1.66 q-0.77,-1.28 -2.05,-1.28 H445.32 V383.60 Z" fill="#f4e2ea"/>
<text x="443.20" y="397.40" textLength="45.20" lengthAdjust="spacingAndGlyphs" font-size="7.4" fill="#fff" font-weight="normal" fill-opacity="0.84">matrix animation</text>
<rect x="492.3" y="386.09999999999997" width="17.4" height="17.4" fill="#101010"/>
<path d="M494.23,386.09999999999997 v17.4" stroke="#e8e8e8" stroke-width="0.55"/>
<path d="M492.3,388.03 h17.4" stroke="#e8e8e8" stroke-width="0.55"/>
<path d="M496.17,386.09999999999997 v17.4" stroke="#e8e8e8" stroke-width="0.55"/>
<path d="M492.3,389.97 h17.4" stroke="#e8e8e8" stroke-width="0.55"/>
<path d="M498.10,386.09999999999997 v17.4" stroke="#e8e8e8" stroke-width="0.55"/>
<path d="M492.3,391.90 h17.4" stroke="#e8e8e8" stroke-width="0.55"/>
<path d="M500.03,386.09999999999997 v17.4" stroke="#e8e8e8" stroke-width="0.55"/>
<path d="M492.3,393.83 h17.4" stroke="#e8e8e8" stroke-width="0.55"/>
<path d="M501.97,386.09999999999997 v17.4" stroke="#e8e8e8" stroke-width="0.55"/>
<path d="M492.3,395.76 h17.4" stroke="#e8e8e8" stroke-width="0.55"/>
<path d="M503.90,386.09999999999997 v17.4" stroke="#e8e8e8" stroke-width="0.55"/>
<path d="M492.3,397.70 h17.4" stroke="#e8e8e8" stroke-width="0.55"/>
<path d="M505.83,386.09999999999997 v17.4" stroke="#e8e8e8" stroke-width="0.55"/>
<path d="M492.3,399.63 h17.4" stroke="#e8e8e8" stroke-width="0.55"/>
<path d="M507.76,386.09999999999997 v17.4" stroke="#e8e8e8" stroke-width="0.55"/>
<path d="M492.3,401.56 h17.4" stroke="#e8e8e8" stroke-width="0.55"/>
<path d="M513.70,394.70 L519.87,388.20 H528.43 L534.60,394.70 L528.43,401.20 H519.87 Z" fill="#ae0c6c" stroke="#ae0c6c" stroke-width="0.8" stroke-linejoin="round"/>
<text x="518.20" y="397.40" textLength="11.80" lengthAdjust="spacingAndGlyphs" font-size="7.4" fill="#fff" font-weight="normal" fill-opacity="0.84">loop</text>
<path d="M546.20,384.20 H689.65 A10.35,10.35 0 0 1 689.65,404.90 H566.73 q-1.28,0 -2.05,1.28 l-1.15,1.66 q-0.77,1.15 -2.05,1.15 h-5.89 q-1.28,0 -2.05,-1.15 l-1.15,-1.66 q-0.77,-1.28 -2.05,-1.28 H546.20 Q544.20,404.90 544.20,402.90 V386.20 Q544.20,384.20 546.20,384.20 Z" fill="#e4088a" stroke="#c40676" stroke-width="0.6"/>
<path d="M568.52,383.60 V383.90 H566.73 q-1.28,0 -2.05,1.28 l-1.15,1.66 q-0.77,1.15 -2.05,1.15 h-5.89 q-1.28,0 -2.05,-1.15 l-1.15,-1.66 q-0.77,-1.28 -2.05,-1.28 H549.32 V383.60 Z" fill="#f4e2ea"/>
<text x="547.90" y="397.40" textLength="34.60" lengthAdjust="spacingAndGlyphs" font-size="7.4" fill="#fff" font-weight="normal" fill-opacity="0.84">scrolling text</text>
<rect x="586" y="387.7" width="18.2" height="14" rx="1.5" fill="#b40c70"/>
<text x="606.80" y="397.40" textLength="4.60" lengthAdjust="spacingAndGlyphs" font-size="7.4" fill="#fff" font-weight="normal" fill-opacity="0.84">in</text>
<path d="M616.80,392.00 L619.80,389.00 H628.70 L631.70,392.00 V398.00 L628.70,401.00 H619.80 L616.80,398.00 Z" fill="#a0dcfc" stroke="#a0dcfc" stroke-width="2" stroke-linejoin="round"/>
<text x="636.00" y="397.40" textLength="5.00" lengthAdjust="spacingAndGlyphs" font-size="7.4" fill="#fff" font-weight="normal" fill-opacity="0.84">at</text>
<circle cx="653.4" cy="395.0" r="8.5" fill="#a80c68"/>
<rect x="198.7" y="408.5" width="236.3" height="2.6" fill="#d6d8ee"/>
<rect x="435" y="408.5" width="87.6" height="2.6" fill="#ead2e0"/>
<rect x="46" y="414.4" width="604" height="40" fill="#fff"/>
<rect x="46.30" y="433.8" width="61.13" height="4" fill="#24c3dc"/>
<text x="60.56" y="426.30" textLength="32.60" lengthAdjust="spacingAndGlyphs" font-size="6.8" fill="#24c3dc" font-weight="normal">Movements</text>
<rect x="108.23" y="433.8" width="61.13" height="4" fill="#3ebca5"/>
<text x="130.89" y="426.30" textLength="15.80" lengthAdjust="spacingAndGlyphs" font-size="6.8" fill="#3ebca5" font-weight="normal">Lights</text>
<rect x="170.16" y="414.4" width="61.33" height="19.6" fill="#e3e5f8"/>
<rect x="170.16" y="433.8" width="61.13" height="4" fill="#2e46c6"/>
<text x="190.22" y="426.30" textLength="21.00" lengthAdjust="spacingAndGlyphs" font-size="6.8" fill="#2e46c6" font-weight="normal">Display</text>
<rect x="232.09" y="433.8" width="61.13" height="4" fill="#e4088a"/>
<text x="253.70" y="426.30" textLength="17.90" lengthAdjust="spacingAndGlyphs" font-size="6.8" fill="#e4088a" font-weight="normal">Matrix</text>
<rect x="294.02" y="433.8" width="61.13" height="4" fill="#9c3075"/>
<text x="314.08" y="426.30" textLength="21.00" lengthAdjust="spacingAndGlyphs" font-size="6.8" fill="#9c3075" font-weight="normal">Sounds</text>
<rect x="355.95" y="433.8" width="61.13" height="4" fill="#6162b8"/>
<text x="374.71" y="426.30" textLength="23.60" lengthAdjust="spacingAndGlyphs" font-size="6.8" fill="#6162b8" font-weight="normal">Controls</text>
<rect x="417.88" y="433.8" width="61.13" height="4" fill="#0a80d0"/>
<text x="434.44" y="426.30" textLength="28.00" lengthAdjust="spacingAndGlyphs" font-size="6.8" fill="#0a80d0" font-weight="normal">Operators</text>
<rect x="479.81" y="433.8" width="61.13" height="4" fill="#3a2a9c"/>
<text x="491.73" y="426.30" textLength="37.30" lengthAdjust="spacingAndGlyphs" font-size="6.8" fill="#3a2a9c" font-weight="normal">Comparators</text>
<rect x="541.74" y="433.8" width="61.13" height="4" fill="#4a6478"/>
<text x="561.06" y="426.30" textLength="22.50" lengthAdjust="spacingAndGlyphs" font-size="6.8" fill="#4a6478" font-weight="normal">Sensors</text>
<rect x="603.67" y="433.8" width="61.13" height="4" fill="#f85048"/>
<text x="610.13" y="426.30" textLength="48.20" lengthAdjust="spacingAndGlyphs" font-size="6.8" fill="#f85048" font-weight="normal">Communications</text>
</g>
</svg>
</body></html>
